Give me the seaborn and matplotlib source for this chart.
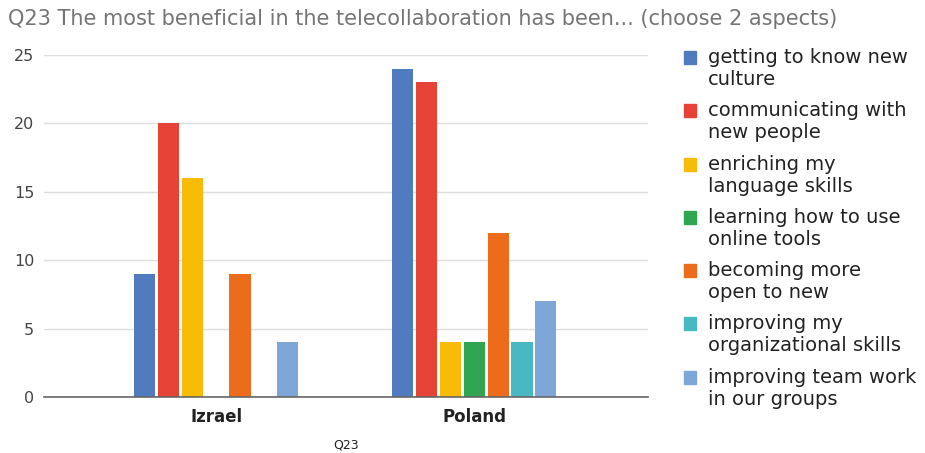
import matplotlib.pyplot as plt
import seaborn as sns
import pandas as pd
from matplotlib.legend_handler import HandlerPatch

countries = ["Izrael", "Poland"]
aspects = [
    "getting to know new\nculture",
    "communicating with\nnew people",
    "enriching my\nlanguage skills",
    "learning how to use\nonline tools",
    "becoming more\nopen to new",
    "improving my\norganizational skills",
    "improving team work\nin our groups",
]
izrael_counts = [9, 20, 16, 0, 9, 0, 4]
poland_counts = [24, 23, 4, 4, 12, 4, 7]
colors = ["#507BBE", "#E64236", "#F8BC06", "#30A552", "#EC6C1C", "#48B8C3", "#7EA6D8"]

rows = []
for a, iz, po in zip(aspects, izrael_counts, poland_counts):
    rows.append({"country": "Izrael", "aspect": a, "count": iz})
    rows.append({"country": "Poland", "aspect": a, "count": po})
df = pd.DataFrame(rows)

sns.set_style("white")
plt.rcParams["font.family"] = ["DejaVu Sans"]

fig = plt.figure(figsize=(9.25, 4.53), dpi=100)
ax = fig.add_axes([0.0476, 0.1236, 0.653, 0.755])

sns.barplot(data=df, x="country", y="count", hue="aspect", order=countries,
            hue_order=aspects, palette=colors, saturation=1, width=0.646, gap=0.11,
            linewidth=0, ax=ax, legend=False)

ax.set_xlim(-0.667, 1.673)
ax.set_ylim(0, 25)
ax.set_yticks([0, 5, 10, 15, 20, 25])
ax.yaxis.grid(True, color="#dddddd", linewidth=1)
ax.set_axisbelow(True)
for s in ["top", "right", "left"]:
    ax.spines[s].set_visible(False)
ax.spines["bottom"].set_color("#666666")
ax.spines["bottom"].set_linewidth(1.2)
ax.tick_params(axis="y", length=0, pad=7, labelsize=11.5, labelcolor="#444444")
ax.tick_params(axis="x", length=0, pad=8, labelsize=12)
for lbl in ax.get_xticklabels():
    lbl.set_fontweight("bold")
    lbl.set_color("#222222")
ax.set_xlabel("Q23", fontsize=9, color="#222222", labelpad=9)
ax.set_ylabel("")

fig.text(0.009, 0.945, "Q23 The most beneficial in the telecollaboration has been... (choose 2 aspects)",
         fontsize=15, color="#757575", ha="left", va="baseline")


# put the legend square next to the first line of a two-line label
def top_square(legend, orig_handle, xdescent, ydescent, width, height, fontsize):
    return plt.Rectangle((-xdescent, -ydescent + 0.6 * fontsize), width, height)


handles = [plt.Rectangle((0, 0), 1, 1, color=c) for c in colors]
fig.legend(handles, aspects, loc="upper left", bbox_to_anchor=(0.739, 0.894),
           frameon=False, fontsize=14, labelcolor="#222222",
           handlelength=0.65, handleheight=0.65,
           handletextpad=0.6, labelspacing=0.63, borderpad=0, borderaxespad=0,
           handler_map={plt.Rectangle: HandlerPatch(patch_func=top_square)})

plt.savefig("out.png", dpi=100)
plt.close()
